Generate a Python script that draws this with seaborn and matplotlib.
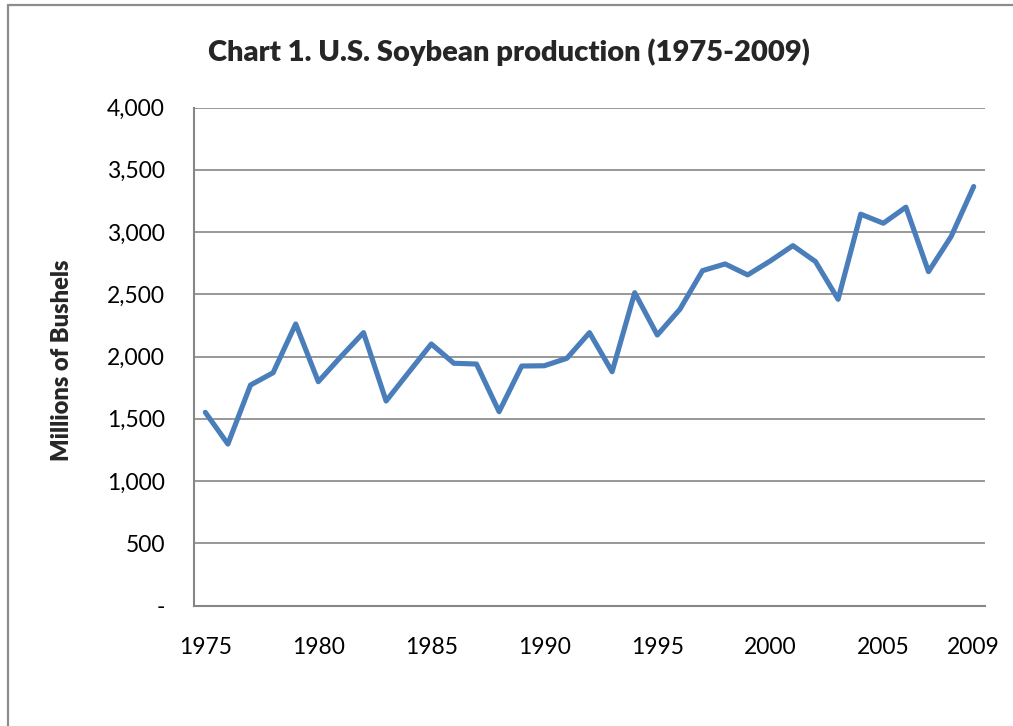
import numpy as np
import pandas as pd
import matplotlib
matplotlib.use("Agg")
import matplotlib.pyplot as plt
from matplotlib.lines import Line2D
from matplotlib.ticker import FuncFormatter
import seaborn as sns

years = list(range(1975, 2010))
production = [1552, 1297, 1771, 1870, 2262, 1798, 1999, 2192, 1643, 1873,
              2101, 1946, 1940, 1557, 1924, 1926, 1986, 2192, 1878, 2513,
              2173, 2380, 2690, 2744, 2656, 2768, 2891, 2763, 2460, 3144,
              3071, 3200, 2682, 2964, 3366]
xtick_years = [1975, 1980, 1985, 1990, 1995, 2000, 2005, 2009]
ytick_values = [0, 500, 1000, 1500, 2000, 2500, 3000, 3500, 4000]
title = "Chart 1. U.S. Soybean production (1975-2009)"
ylabel = "Millions of Bushels"

sns.set_theme(style="white")
plt.rcParams['font.family'] = ['Lato', 'DejaVu Sans']

W, H = 1013, 726
fig = plt.figure(figsize=(W / 100, H / 100), dpi=100)
left, right, top, bottom = 194, 985, 107.6, 605.5
ax = fig.add_axes([left / W, 1 - bottom / H, (right - left) / W, (bottom - top) / H])

df = pd.DataFrame({"Year": years, "Production": production})
sns.lineplot(data=df, x="Year", y="Production", ax=ax, color="#4A7EBB",
             linewidth=3.7, solid_joinstyle="round", zorder=3)

ax.set_xlim(1974.5, 2009.5)
ax.set_ylim(0, 4000)
ax.set_yticks(ytick_values)
ax.yaxis.set_major_formatter(FuncFormatter(lambda v, p: "-" if v == 0 else f"{int(v):,}"))
ax.set_xticks(xtick_years)
ax.set_xticklabels([str(y) for y in xtick_years])
ax.grid(axis="y", color="#868686", linewidth=1.2)
ax.grid(axis="x", visible=False)
ax.set_axisbelow(True)
for s in ["top", "right"]:
    ax.spines[s].set_visible(False)
for s in ["left", "bottom"]:
    ax.spines[s].set_color("#868686")
    ax.spines[s].set_linewidth(1.5)
ax.tick_params(axis="both", length=0, labelsize=16.5, colors="black")
ax.tick_params(axis="y", pad=21)
ax.tick_params(axis="x", pad=23)
ax.set_xlabel("")
ax.set_ylabel("")

fig.text(62 / W, 1 - 360 / H, ylabel, rotation=90, ha="center", va="center",
         fontsize=17, fontweight="heavy")
fig.text(509 / W, 1 - 52 / H, title, ha="center", va="center",
         fontsize=21, fontweight="heavy")

fig.add_artist(Line2D([8 / W, 8 / W], [0, 1 - 4.5 / H], transform=fig.transFigure,
                      color="#8c8c8c", linewidth=1.6))
fig.add_artist(Line2D([8 / W, 1], [1 - 4.5 / H, 1 - 4.5 / H], transform=fig.transFigure,
                      color="#8c8c8c", linewidth=1.6))

fig.savefig("out.png", dpi=100)
